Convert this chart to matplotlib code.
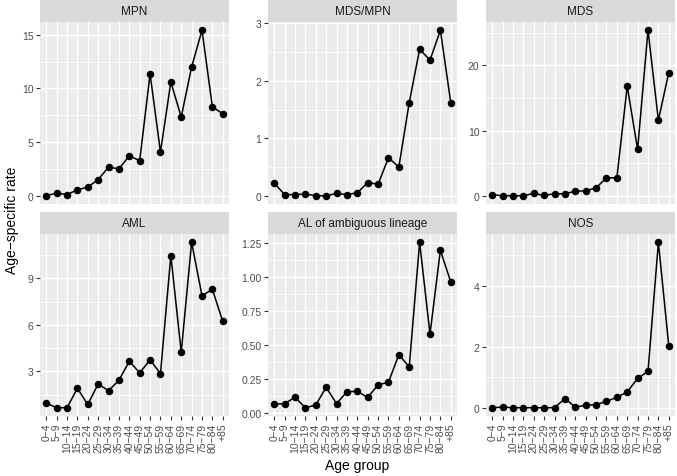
import matplotlib
matplotlib.use("Agg")
from matplotlib import pyplot as plt
from matplotlib.ticker import MultipleLocator, FormatStrFormatter

plt.rcParams['font.family'] = ['Liberation Sans', 'DejaVu Sans']

age_groups = ["0\u22124", "5\u22129", "10\u221214", "15\u221219", "20\u221224", "25\u221229",
              "30\u221234", "35\u221239", "40\u221244", "45\u221249", "50\u221254", "55\u221259",
              "60\u221264", "65\u221269", "70\u221274", "75\u221279", "80\u221284", "+85"]

mpn = [0.05, 0.3, 0.15, 0.6, 0.85, 1.55, 2.7, 2.55, 3.75, 3.3, 11.35, 4.1,
       10.6, 7.35, 12.0, 15.4, 8.3, 7.65]
mds_mpn = [0.22, 0.02, 0.02, 0.03, 0.0, 0.0, 0.04, 0.02, 0.05, 0.23, 0.2, 0.66,
           0.5, 1.62, 2.55, 2.36, 2.88, 1.62]
mds = [0.15, 0.0, 0.0, 0.0, 0.35, 0.05, 0.3, 0.3, 0.7, 0.75, 1.2, 2.75,
       2.75, 16.8, 7.1, 25.4, 11.6, 18.9]
aml = [0.95, 0.65, 0.65, 1.9, 0.86, 2.18, 1.75, 2.42, 3.65, 2.9, 3.74, 2.85,
       10.47, 4.23, 11.33, 7.88, 8.29, 6.22]
al_ambig = [0.066, 0.07, 0.116, 0.04, 0.06, 0.19, 0.07, 0.157, 0.16, 0.116, 0.207, 0.227,
            0.428, 0.34, 1.253, 0.58, 1.194, 0.962]
nos = [0.0, 0.02, 0.0, 0.0, 0.0, 0.0, 0.0, 0.3, 0.02, 0.08, 0.1, 0.21,
       0.34, 0.52, 0.96, 1.19, 5.42, 2.03]

panels = [("MPN", mpn, 5, "%d"), ("MDS/MPN", mds_mpn, 1, "%d"), ("MDS", mds, 10, "%d"),
          ("AML", aml, 3, "%d"), ("AL of ambiguous lineage", al_ambig, 0.25, "%.2f"),
          ("NOS", nos, 2, "%d")]

W, H = 677, 477
fig = plt.figure(figsize=(W / 100, H / 100), dpi=100)

# pixel layout of the facet grid
col_left = [40, 268, 486]
panel_w = 189
row_top = [1, 213]
strip_h = 22
panel_h = 182

x = list(range(len(age_groups)))

for i, (name, vals, step, fmt) in enumerate(panels):
    r, c = divmod(i, 3)
    left = col_left[c] / W
    top_px = row_top[r]
    ax = fig.add_axes([left, 1 - (top_px + strip_h + panel_h) / H,
                       panel_w / W, panel_h / H])
    strip = fig.add_axes([left, 1 - (top_px + strip_h) / H, panel_w / W, strip_h / H])
    strip.set_facecolor("#D9D9D9")
    strip.set_xticks([])
    strip.set_yticks([])
    for s in strip.spines.values():
        s.set_visible(False)
    strip.text(0.5, 0.5, name, ha="center", va="center", fontsize=8.5, color="#1A1A1A",
               transform=strip.transAxes)

    ax.set_facecolor("#EBEBEB")
    for s in ax.spines.values():
        s.set_visible(False)
    ax.plot(x, vals, color="black", lw=1.1, marker="o", markersize=4.4, zorder=3)
    ax.set_xlim(-0.6, len(age_groups) - 0.4)
    ax.margins(y=0.05)
    ax.yaxis.set_major_locator(MultipleLocator(step))
    ax.yaxis.set_minor_locator(MultipleLocator(step / 2))
    ax.yaxis.set_major_formatter(FormatStrFormatter(fmt))
    ax.set_xticks(x)
    ax.grid(which="major", color="white", lw=1.0)
    ax.grid(which="minor", axis="y", color="white", lw=0.5)
    ax.set_axisbelow(True)
    ax.tick_params(which="major", length=2.75, width=0.8, color="#333333",
                   labelcolor="#4D4D4D", labelsize=7.5, pad=2)
    ax.tick_params(which="minor", length=0)
    if r == 1:
        ax.set_xticklabels(age_groups, rotation=90, va="top", ha="center")
    else:
        ax.tick_params(axis="x", length=0, labelbottom=False)

fig.text(12 / W, 1 - 220 / H, "Age\u2212specific rate", rotation=90, ha="center",
         va="center", fontsize=10, color="black")
fig.text(357 / W, 1 - 466 / H, "Age group", ha="center", va="center",
         fontsize=10, color="black")

fig.savefig("out.png", dpi=100, facecolor="white")
